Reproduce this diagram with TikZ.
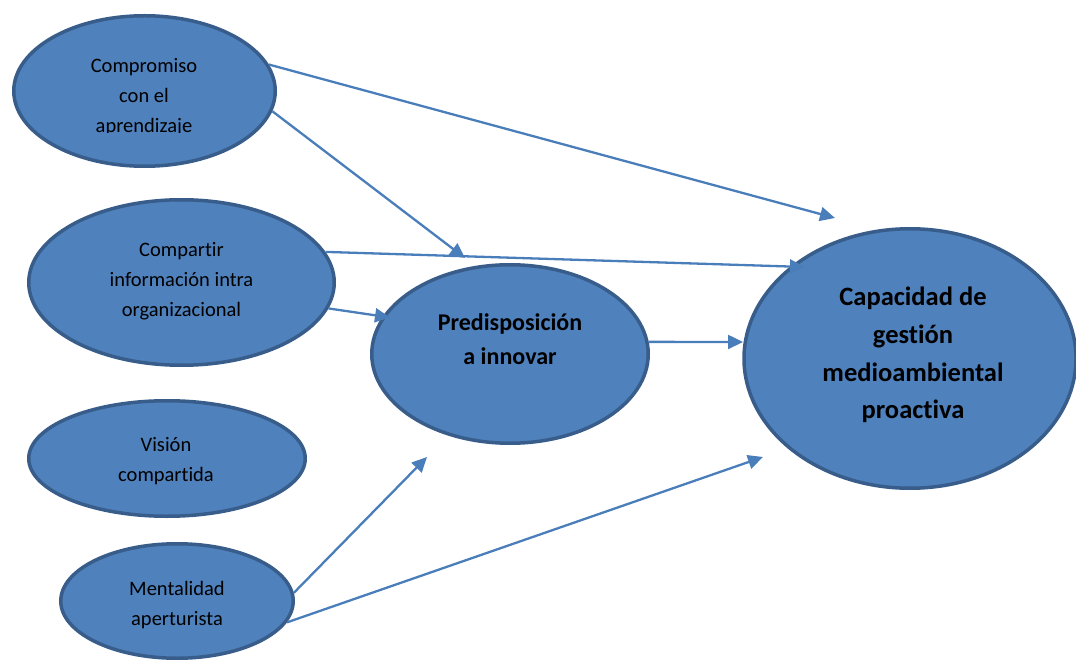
\documentclass[tikz,border=0pt]{standalone}
\usepackage{fontspec}
\setmainfont{Carlito}[RawFeature={-liga;-clig;-dlig}]
\usetikzlibrary{arrows.meta,shapes.geometric}
\definecolor{bubblefill}{HTML}{4F81BD}
\definecolor{bubbleedge}{HTML}{385D8A}
\definecolor{linkblue}{HTML}{4A7EBB}
\tikzset{
  bubble/.style={ellipse, draw=bubbleedge, fill=bubblefill, line width=3.5pt, inner sep=0pt},
  smalltext/.style={align=center, inner sep=0pt, font=\fontsize{20.5}{30}\selectfont},
  midtext/.style={align=center, inner sep=0pt, font=\bfseries\fontsize{24}{34}\selectfont},
  bigtext/.style={align=center, inner sep=0pt, font=\bfseries\fontsize{26.5}{37.8}\selectfont},
  link/.style={draw=linkblue, line width=2.3pt, -{Triangle[length=15pt,width=14pt]}}
}
\begin{document}
\begin{tikzpicture}[x=1pt,y=-1pt]
  \clip (0,0) rectangle (1076,660);

  % ellipses
  \node[bubble, minimum width=261.5pt, minimum height=150.5pt] (cmp) at (144.5,91) {};
  \node[bubble, minimum width=305.5pt, minimum height=165.5pt] (inf) at (181.5,282.5) {};
  \node[bubble, minimum width=276.5pt, minimum height=115.5pt] (vis) at (167,458.5) {};
  \node[bubble, minimum width=232.5pt, minimum height=114.5pt] (men) at (177,601) {};
  \node[bubble, minimum width=276.5pt, minimum height=178.5pt] (pre) at (510,354) {};
  \node[bubble, minimum width=332pt, minimum height=259.5pt] (cap) at (910,358.5) {};

  % labels
  \begin{scope}
    \clip (0,0) rectangle (1076,132.5);
    \node[smalltext] (cmp-label) at (144,97) {Compromiso\\con el\\aprendizaje};
  \end{scope}
  \node[smalltext] (inf-label) at (181.5,281.5) {Compartir\\información intra\\organizacional};
  \node[smalltext] (vis-label) at (166,461) {Visión\\compartida};
  \node[smalltext] (men-label) at (177,605) {Mentalidad\\aperturista};
  \node[midtext] (pre-label) at (510,339) {Predisposición\\a innovar};
  \node[bigtext] (cap-label) at (913,355) {Capacidad de\\gestión\\medioambiental\\proactiva};

  % arrow tips
  \coordinate (t1) at (835,218);
  \coordinate (t2) at (465,258);
  \coordinate (t3) at (805,267);
  \coordinate (t4) at (390,317.5);
  \coordinate (t5) at (743,342);
  \coordinate (t6) at (427,457);
  \coordinate (t7) at (763,457);

  % connectors
  \draw[link] (cmp.12) -- (t1);
  \draw[link] (cmp.-9) -- (t2);
  \draw[link] (inf.12) -- (t3);
  \draw[link] (inf.-10) -- (t4);
  \draw[link] (pre.5) -- (t5);
  \draw[link] (men.4) -- (t6);
  \draw[link] (men.-11) -- (t7);
\end{tikzpicture}
\end{document}
